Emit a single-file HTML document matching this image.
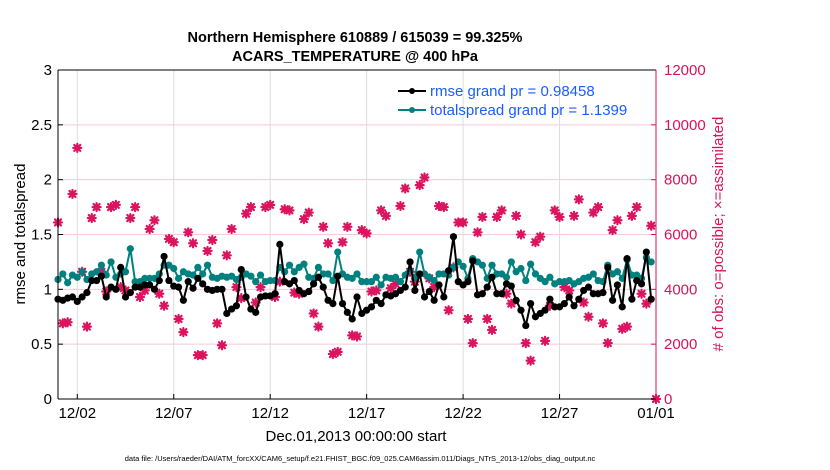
<!DOCTYPE html>
<html><head><meta charset="utf-8">
<style>
body{margin:0;background:#fff;}
svg{display:block;font-family:"Liberation Sans",Arial,sans-serif;}
</style></head>
<body>
<svg id="chart" width="830" height="470" viewBox="0 0 830 470">
<rect width="830" height="470" fill="#fff"/>
<g id="grid"></g>
<g id="marks"></g>
<g id="axes"></g>
<text x="355" y="42" text-anchor="middle" font-size="14.5" font-weight="bold">Northern Hemisphere 610889 / 615039 = 99.325%</text>
<text x="355" y="61" text-anchor="middle" font-size="14.5" font-weight="bold">ACARS_TEMPERATURE @ 400 hPa</text>
<text transform="translate(25,234) rotate(-90)" text-anchor="middle" font-size="15">rmse and totalspread</text>
<text transform="translate(723,234) rotate(-90)" text-anchor="middle" font-size="15" fill="#d8135a"># of obs: o=possible; ×=assimilated</text>
<text x="356" y="441" text-anchor="middle" font-size="15">Dec.01,2013 00:00:00 start</text>
<text x="360" y="461" text-anchor="middle" font-size="7.5">data file: /Users/raeder/DAI/ATM_forcXX/CAM6_setup/f.e21.FHIST_BGC.f09_025.CAM6assim.011/Diags_NTrS_2013-12/obs_diag_output.nc</text>
<g>
<line x1="398" y1="91" x2="426" y2="91" stroke="#000" stroke-width="2"/>
<circle cx="412" cy="91" r="3" fill="#000"/>
<text x="430" y="96" font-size="15" fill="#1a5cff">rmse grand pr = 0.98458</text>
<line x1="398" y1="110" x2="426" y2="110" stroke="#00807f" stroke-width="2"/>
<circle cx="412" cy="110" r="3" fill="#00807f"/>
<text x="430" y="115" font-size="15" fill="#1a5cff">totalspread grand pr = 1.1399</text>
</g>
</svg>
<script>
const rmse=[.91,.90,.92,.93,.89,.93,.97,1.08,1.08,1.12,
.93,1.02,1.00,1.20,.93,.97,1.02,1.02,1.04,1.04,
1.00,1.08,1.30,1.08,1.03,1.02,.90,1.07,1.01,1.10,
1.05,1.00,.99,1.00,1.00,.78,.82,.85,1.18,.93,
.82,.79,.93,.94,.94,.96,1.41,1.07,1.05,1.08,
.99,.96,.98,1.05,1.11,1.02,.90,.87,1.12,.87,
.79,.73,.93,.78,.81,.84,.90,.87,.95,.94,
.96,.99,1.02,1.25,.99,1.14,.93,.98,.90,1.04,
.93,1.17,1.48,1.07,1.04,1.07,1.26,.95,.96,1.02,
1.11,.96,.96,1.05,1.03,.90,.81,.67,.87,.75,
.78,.81,.91,.84,.84,.87,.93,.85,.91,.99,
1.02,.96,.96,.97,1.2,.90,1.04,.84,1.28,.91,
1.08,1.05,1.34,.91];
const spread=[1.09,1.14,1.06,1.13,1.11,1.16,1.09,1.14,1.16,1.22,
1.13,1.25,1.11,1.14,1.16,1.37,1.07,1.07,1.10,1.10,
1.10,1.14,1.22,1.22,1.19,1.10,1.16,1.14,1.13,1.20,
1.14,1.22,1.11,1.10,1.12,1.11,1.12,1.09,1.11,1.14,
1.12,1.07,1.13,1.07,1.08,1.08,1.20,1.16,1.22,1.16,
1.20,1.23,1.11,1.10,1.20,1.14,1.14,1.08,1.34,1.14,
1.11,1.10,1.14,1.07,1.07,1.07,1.11,1.04,1.11,1.10,
1.11,1.07,1.13,1.17,1.11,1.34,1.14,1.11,1.08,1.14,
1.14,1.13,1.20,1.25,1.21,1.10,1.28,1.25,1.22,1.10,
1.22,1.14,1.14,1.11,1.25,1.16,1.19,1.08,1.23,1.14,
1.10,1.07,1.11,1.05,1.07,1.07,1.08,1.05,1.07,1.10,
1.11,1.14,1.08,1.07,1.22,1.14,1.16,1.10,1.27,1.13,
1.13,1.10,1.29,1.25];
const obsCount=[6440,2760,2800,7480,9160,4640,2640,6600,7000,4640,
3920,7000,7080,4080,3960,6600,7000,3720,3960,6200,
6520,3840,3400,5840,5720,2920,2440,6080,5680,1600,
1600,5400,5800,2760,1960,5240,6200,4080,3680,6760,
7000,3520,4080,7000,7080,3720,4280,6920,6880,3880,
3840,6560,6800,3120,2640,6280,5680,1640,1720,5720,
6280,2320,2280,6160,6040,3920,3960,6880,6680,4040,
4200,7040,7680,4640,4280,7800,8080,4400,4080,7040,
7000,3240,4800,6440,6440,2920,2040,6080,6640,2920,
2520,6640,6880,3840,3480,6680,6000,2040,1400,5720,
5920,2120,3400,6880,6640,4080,3960,6680,7280,3520,
3000,6800,7000,2760,2040,6160,6520,2560,2640,6680,
7000,3840,3480,6320,0];
const xTickLabels=["12/02","12/07","12/12","12/17","12/22","12/27","01/01"];
const xTickDays=[1,6,11,16,21,26,31];
const yTicks=[0,0.5,1,1.5,2,2.5,3];
const yTickLabels=["0","0.5","1","1.5","2","2.5","3"];
const y2Ticks=[0,2000,4000,6000,8000,10000,12000];

const NS="http://www.w3.org/2000/svg";
const X0=58,X1=656,Y0=399,Y1=70;
const xs=d=>X0+(d/31)*(X1-X0);
const ys=v=>Y0-(v/3)*(Y0-Y1);
const ys2=v=>Y0-(v/12000)*(Y0-Y1);
function mk(tag,attrs,parent){const e=document.createElementNS(NS,tag);for(const k in attrs)e.setAttribute(k,attrs[k]);parent.appendChild(e);return e;}
const grid=document.getElementById('grid'),marks=document.getElementById('marks'),axes=document.getElementById('axes');

yTicks.forEach((v,i)=>{
  if(v>0&&v<3){const l=mk('line',{x1:X0,x2:X1,y1:ys(v),y2:ys(v),stroke:'#f5c9d8','stroke-width':1},grid);
  
  }
  const t=mk('text',{x:X0-6,y:ys(v)+5,'text-anchor':'end','font-size':15},axes);t.textContent=yTickLabels[i];
  
  
  const tk=mk('line',{x1:X0,x2:X0+5,y1:ys(v),y2:ys(v),stroke:'#000'},axes);
  
  
});
y2Ticks.forEach(v=>{
  const t=mk('text',{x:X1+8,y:ys2(v)+5,'font-size':15,fill:'#d8135a'},axes);t.textContent=String(v);
  
  
  const tk=mk('line',{x1:X1-5,x2:X1,y1:ys2(v),y2:ys2(v),stroke:'#d8135a'},axes);
  
  
});
xTickDays.forEach((d,i)=>{
  if(d<31){const l=mk('line',{x1:xs(d),x2:xs(d),y1:Y1,y2:Y0,stroke:'#dddddd'},grid);
  
  }
  const t=mk('text',{x:xs(d),y:Y0+19,'text-anchor':'middle','font-size':15},axes);t.textContent=xTickLabels[i];
  
  
  const tk=mk('line',{x1:xs(d),x2:xs(d),y1:Y0,y2:Y0-5,stroke:'#000'},axes);
  
  
});
let a;
a=mk('line',{x1:X0,x2:X0,y1:Y1,y2:Y0,stroke:'#000'},axes);
a=mk('line',{x1:X0,x2:X1,y1:Y0,y2:Y0,stroke:'#000'},axes);
a=mk('line',{x1:X0,x2:X1,y1:Y1,y2:Y1,stroke:'#000'},axes);
a=mk('line',{x1:X1,x2:X1,y1:Y1,y2:Y0,stroke:'#d8135a'},axes);

// obs markers
obsCount.forEach((v,i)=>{
  const cx=xs(i*0.25),cy=ys2(v);
  const g=mk('path',{d:`M${cx-4},${cy}H${cx+4}M${cx},${cy-4}V${cy+4}M${cx-3},${cy-3}L${cx+3},${cy+3}M${cx-3},${cy+3}L${cx+3},${cy-3}`,stroke:'#dc1460','stroke-width':2.2,'stroke-linecap':'round'},marks);
  
  
});
function series(arr,color,name){
  const p=mk('polyline',{points:arr.map((v,i)=>xs(i*0.25)+','+ys(v)).join(' '),fill:'none',stroke:color,'stroke-width':2},marks);
  
  
  arr.forEach((v,i)=>{const c=mk('circle',{cx:xs(i*0.25),cy:ys(v),r:3.6,fill:color},marks);
  
  });
}
series(spread,'#00807f','totalspread');
series(rmse,'#000000','rmse');
</script>
</body></html>
